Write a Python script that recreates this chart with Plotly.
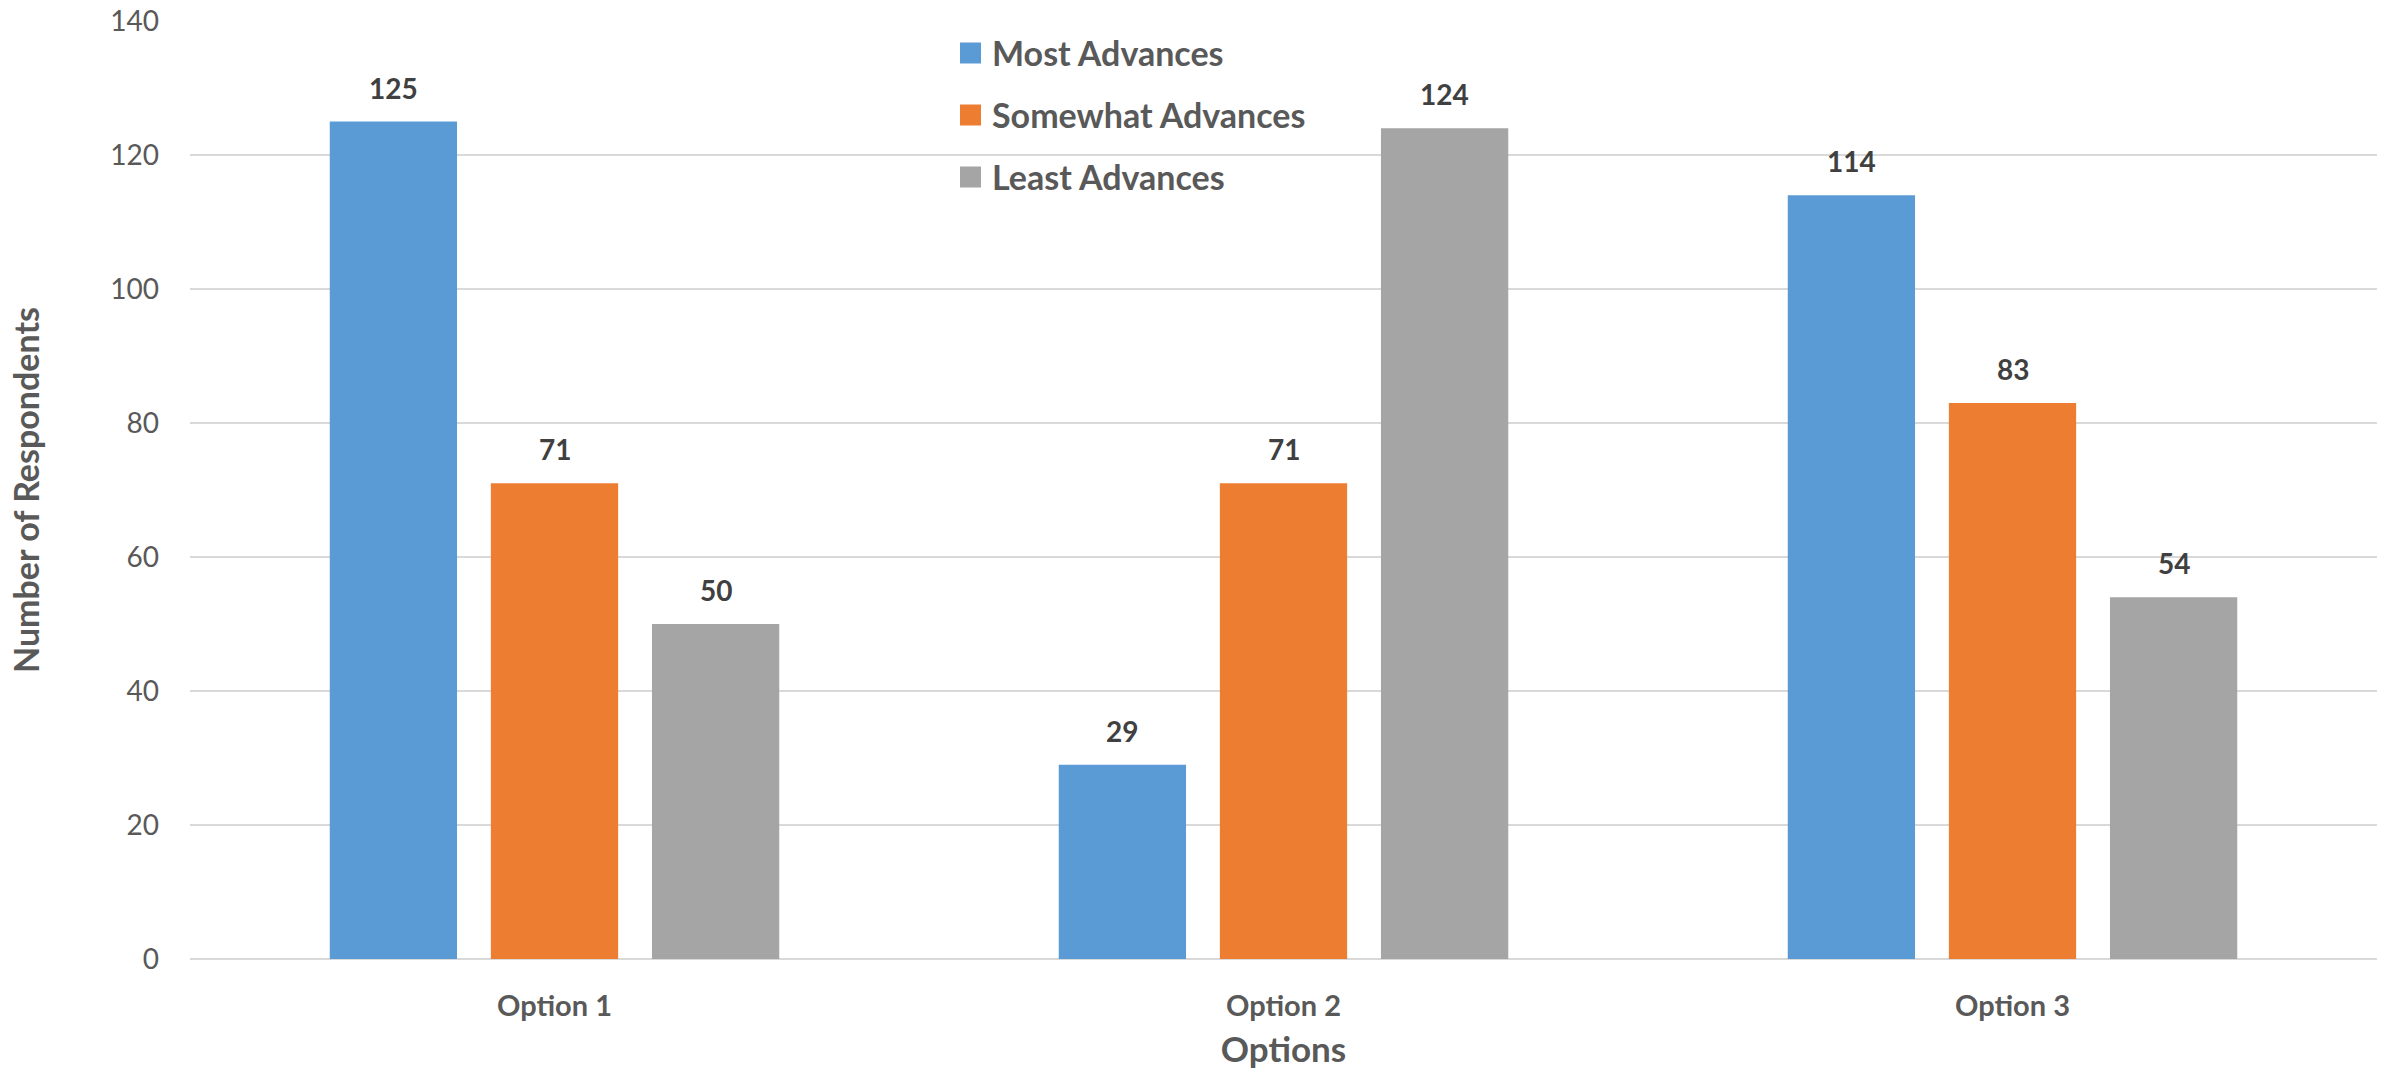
import plotly.graph_objects as go

categories = ["Option 1", "Option 2", "Option 3"]
series_names = ["Most Advances", "Somewhat Advances", "Least Advances"]
most_advances = [125, 29, 114]
somewhat_advances = [71, 71, 83]
least_advances = [50, 124, 54]
series_values = [most_advances, somewhat_advances, least_advances]
colors = ["#5B9BD5", "#ED7D31", "#A5A5A5"]
y_ticks = [0, 20, 40, 60, 80, 100, 120, 140]

W, H = 2391, 1069
ML, MR, MT, MB = 190, 14, 21, 110
PW, PH = W - ML - MR, H - MT - MB
BARGAP, GROUPGAP = 0.337, 0.21
FONT = "Lato"
TXT = "#595959"

fig = go.Figure()
for name, vals, col in zip(series_names, series_values, colors):
    fig.add_trace(go.Bar(x=categories, y=vals, name=name, marker=dict(color=col, line=dict(width=0)),
                         showlegend=False))

# data labels
slot = (1 - BARGAP) / len(series_names)
annotations = []
for i, vals in enumerate(series_values):
    for j, v in enumerate(vals):
        annotations.append(dict(x=j + (i - (len(series_names) - 1) / 2) * slot, y=v, xref="x", yref="y",
                                text="<b>%d</b>" % v, showarrow=False, yanchor="bottom", yshift=15,
                                font=dict(family=FONT, size=28, color="#404040")))

# manual legend (pixel positions in page coordinates)
def px2paper_x(px):
    return (px - ML) / PW

def px2paper_y(py):
    return (H - MB - py) / PH

shapes = []
leg_x0, leg_sq, leg_y0, leg_dy = 960, 21, 53, 62
for k, (name, col) in enumerate(zip(series_names, colors)):
    cy = leg_y0 + k * leg_dy
    shapes.append(dict(type="rect", xref="paper", yref="paper",
                       x0=px2paper_x(leg_x0), x1=px2paper_x(leg_x0 + leg_sq),
                       y0=px2paper_y(cy + leg_sq / 2), y1=px2paper_y(cy - leg_sq / 2),
                       fillcolor=col, line=dict(width=0)))
    annotations.append(dict(x=px2paper_x(leg_x0 + leg_sq + 9), y=px2paper_y(cy), xref="paper", yref="paper",
                            text="<b>%s</b>" % name, showarrow=False, xanchor="left", yanchor="middle",
                            font=dict(family=FONT, size=34, color=TXT)))

fig.update_layout(
    width=W, height=H,
    margin=dict(l=ML, r=MR, t=MT, b=MB),
    paper_bgcolor="white", plot_bgcolor="white",
    barmode="group", bargap=BARGAP, bargroupgap=GROUPGAP,
    showlegend=False,
    annotations=annotations, shapes=shapes,
    font=dict(family=FONT, color=TXT),
)
fig.update_xaxes(
    tickvals=categories, ticktext=["<b>%s</b>" % c for c in categories],
    tickfont=dict(family=FONT, size=29, color=TXT),
    showgrid=False, showline=False, ticks="", ticklabelstandoff=27,
    title=dict(text="<b>Options</b>", font=dict(family=FONT, size=35, color=TXT), standoff=23),
    automargin=False,
)
fig.update_yaxes(
    range=[0, 140], tickvals=y_ticks, ticklabeloverflow="allow",
    tickfont=dict(family=FONT, size=28, color=TXT),
    showgrid=True, gridcolor="#D9D9D9", gridwidth=2,
    zeroline=True, zerolinecolor="#D9D9D9", zerolinewidth=2,
    showline=False, ticks="", ticklabelstandoff=30,
    title=dict(text="<b>Number of Respondents</b>", font=dict(family=FONT, size=34, color=TXT), standoff=60),
    automargin=False,
)

fig.write_html("out.html", config={"displayModeBar": False},
               post_script="document.body.style.margin='0';")
